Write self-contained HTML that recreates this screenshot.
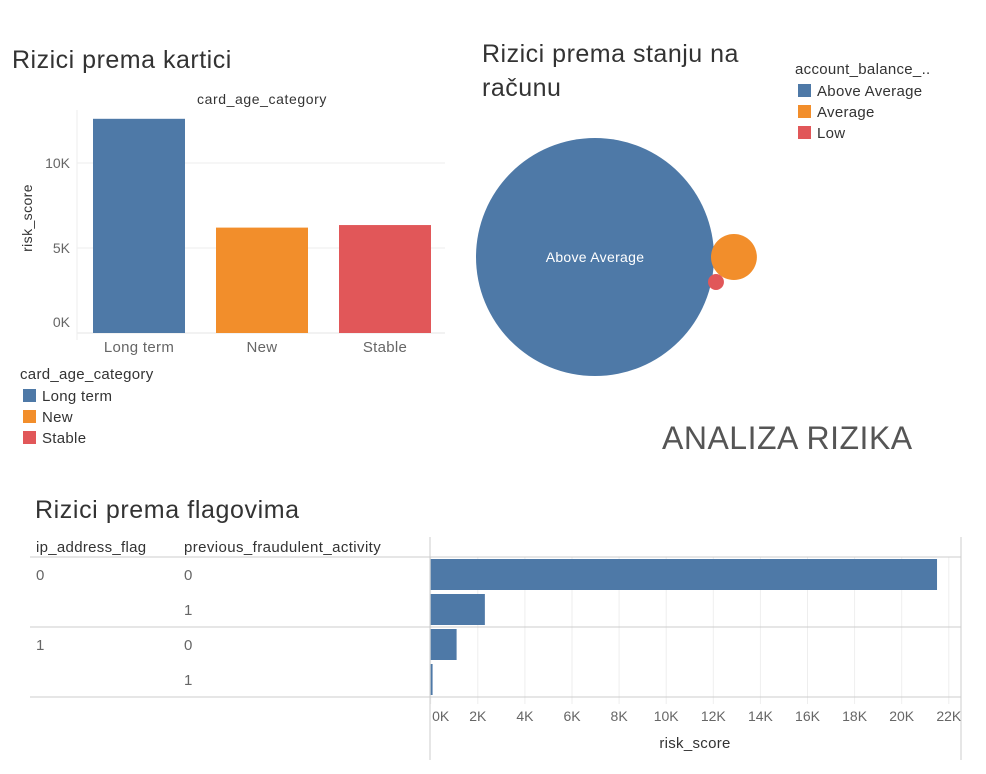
<!DOCTYPE html>
<html><head><meta charset="utf-8"><style>
body{margin:0;width:986px;height:774px;background:#fff;font-family:"Liberation Sans","DejaVu Sans",sans-serif;overflow:hidden}
svg{position:absolute;left:0;top:0}
</style></head><body>
<svg width="986" height="774" id="s">
<text x="12" y="68" font-size="25" letter-spacing="0.5" fill="#333">Rizici prema kartici</text>
<text x="262" y="104" font-size="14" letter-spacing="0.6" fill="#333" text-anchor="middle">card_age_category</text>
<text x="32" y="218" font-size="14" letter-spacing="0.4" fill="#333" text-anchor="middle" transform="rotate(-90 32 218)">risk_score</text>
<text x="482" y="62" font-size="25" letter-spacing="0.5" fill="#333">Rizici prema stanju na</text>
<text x="482" y="96" font-size="25" letter-spacing="0.5" fill="#333">računu</text>
<text x="795" y="74" font-size="15" letter-spacing="0.3" fill="#333">account_balance_..</text>
<text x="20" y="379" font-size="15" letter-spacing="0.3" fill="#333">card_age_category</text>
<text x="662" y="449" font-size="32" letter-spacing="0.5" fill="#555">ANALIZA RIZIKA</text>
<text x="35" y="518" font-size="25" letter-spacing="0.6" fill="#333">Rizici prema flagovima</text>
<text x="36" y="552" font-size="15" letter-spacing="0.3" fill="#333">ip_address_flag</text>
<text x="184" y="552" font-size="15" letter-spacing="0.4" fill="#333">previous_fraudulent_activity</text>
<text x="695" y="748" font-size="15" letter-spacing="0.3" fill="#333" text-anchor="middle">risk_score</text>
<g id="g1"></g><g id="g2"></g><g id="g3"></g>
</svg>
<script>
const cardCats=["Long term","New","Stable"];
const cardVals=[12600,6200,6350];
const cardTicks=[0,5000,10000];
const colors=["#4e79a7","#f28e2b","#e15759"];
const balCats=["Above Average","Average","Low"];
const balVals=[23400,870,105];
const flagIp=["0","0","1","1"];
const flagPrev=["0","1","0","1"];
const flagVals=[21500,2300,1100,80];
const flagTicks=[0,2000,4000,6000,8000,10000,12000,14000,16000,18000,20000,22000];
const NS="http://www.w3.org/2000/svg";
function mk(p,t,a,txt){const e=document.createElementNS(NS,t);for(const k in a)e.setAttribute(k,a[k]);if(txt!=null)e.textContent=txt;p.appendChild(e);return e;}
// bar chart
const g1=document.getElementById('g1');
const y=v=>333-v*0.017;
cardTicks.forEach(t=>{
 mk(g1,'line',{x1:77,x2:445,y1:y(t),y2:y(t),stroke:t?'#eee':'#e6e6e6'});
 const l=mk(g1,'text',{x:70,y:(t?y(t)+5:y(t)-6),'font-size':14,fill:'#666','text-anchor':'end'},(t/1000)+'K');
 
 
});
mk(g1,'line',{x1:77,x2:77,y1:110,y2:340,stroke:'#eee'});
cardCats.forEach((c,i)=>{
 const x=93+i*123;
 const r=mk(g1,'rect',{x:x,y:y(cardVals[i]),width:92,height:cardVals[i]*0.017,fill:colors[i]});
 
 
 const l=mk(g1,'text',{x:x+46,y:352,'font-size':15,'letter-spacing':0.3,fill:'#666','text-anchor':'middle'},c);
 
 
 const s=mk(g1,'rect',{x:23,y:389+i*21,width:13,height:13,fill:colors[i]});
 
 
 const t=mk(g1,'text',{x:42,y:401+i*21,'font-size':15,'letter-spacing':0.3,fill:'#333'},c);
 
 
});
// bubbles
const g2=document.getElementById('g2');
const k=119/Math.sqrt(balVals[0]);
const rr=balVals.map(v=>k*Math.sqrt(v));
const pos=[[595,257],[595+rr[0]+rr[1]-3,257],[595+rr[0]+rr[2]-6,282]];
balCats.forEach((c,i)=>{
 const ci=mk(g2,'circle',{cx:pos[i][0],cy:pos[i][1],r:rr[i],fill:colors[i]});
 
 
 const s=mk(g2,'rect',{x:798,y:84+i*21,width:13,height:13,fill:colors[i]});
 
 
 const t=mk(g2,'text',{x:817,y:96+i*21,'font-size':15,'letter-spacing':0.3,fill:'#333'},c);
 
 
});
const bl=mk(g2,'text',{x:pos[0][0],y:pos[0][1]+5,'font-size':14,'letter-spacing':0.3,fill:'#fff','text-anchor':'middle'},balCats[0]);


// horizontal bars
const g3=document.getElementById('g3');
const x=v=>430.7+v*0.02355;
flagTicks.forEach(t=>{
 mk(g3,'line',{x1:x(t),x2:x(t),y1:557,y2:704,stroke:'#eee'});
 const l=mk(g3,'text',{x:(t?x(t):x(t)+10),y:721,'font-size':14,fill:'#666','text-anchor':'middle'},(t/1000)+'K');
 
 
});
mk(g3,'line',{x1:430,x2:430,y1:537,y2:760,stroke:'#ccc'});
mk(g3,'line',{x1:961,x2:961,y1:537,y2:760,stroke:'#ccc'});
[557,627,697].forEach(yy=>mk(g3,'line',{x1:30,x2:961,y1:yy,y2:yy,stroke:'#ccc'}));
flagVals.forEach((v,i)=>{
 const yy=559+i*35;
 const r=mk(g3,'rect',{x:430.7,y:yy,width:Math.max(v*0.02355,1.5),height:31,fill:colors[0]});
 
 
 if(i%2==0){const a=mk(g3,'text',{x:36,y:yy+21,'font-size':15,fill:'#666'},flagIp[i]);
  
  }
 const b=mk(g3,'text',{x:184,y:yy+21,'font-size':15,fill:'#666'},flagPrev[i]);
 
 
});
</script>
</body></html>
